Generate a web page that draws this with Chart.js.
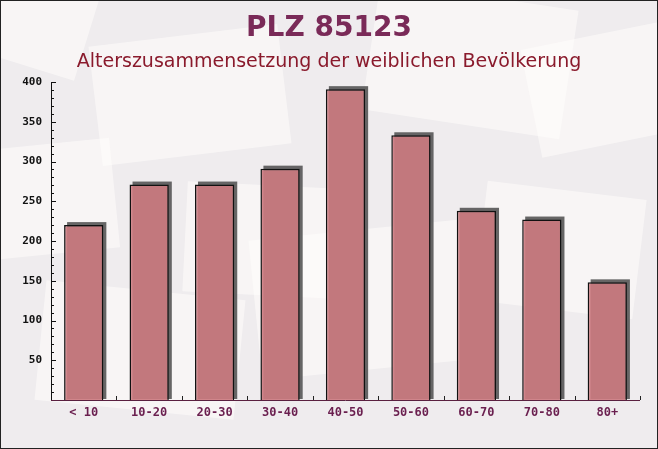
<!DOCTYPE html>
<html>
<head>
<meta charset="utf-8">
<script src="https://cdn.jsdelivr.net/npm/chart.js@4/dist/chart.umd.min.js"></script>
<style>
html,body{margin:0;padding:0;background:#f1eef0;}
#wrap{position:relative;width:658px;height:449px;}
canvas{display:block;}
</style>
</head>
<body>
<div id="wrap"><canvas id="c" width="658" height="449"></canvas></div>
<script>
const categories = ['< 10','10-20','20-30','30-40','40-50','50-60','60-70','70-80','80+'];
const values = [220, 271, 271, 291, 391, 333, 238, 227, 148];
const yTicks = [50, 100, 150, 200, 250, 300, 350, 400];
const titleText = 'PLZ 85123';
const subtitleText = 'Alterszusammensetzung der weiblichen Bevölkerung';

const bgPlugin = {
  id: 'bg',
  beforeDraw(chart) {
    const ctx = chart.ctx, W = chart.width, H = chart.height;
    ctx.save();
    ctx.fillStyle = '#efecee';
    ctx.fillRect(0, 0, W, H);
    const env = [
      [190, 95, 190, 120, -0.12], [470, 60, 200, 130, 0.15], [40, 200, 150, 110, -0.1],
      [360, 300, 210, 140, -0.1], [560, 250, 160, 120, 0.12], [140, 350, 200, 120, 0.1],
      [600, 90, 140, 110, -0.2], [260, 240, 150, 110, 0.05], [30, 20, 120, 90, 0.3]
    ];
    env.forEach(([x, y, w, h, r]) => {
      ctx.save();
      ctx.translate(x, y);
      ctx.rotate(r);
      ctx.fillStyle = 'rgba(255,253,252,0.55)';
      ctx.fillRect(-w / 2, -h / 2, w, h);
      ctx.restore();
    });
    ctx.textAlign = 'center';
    ctx.textBaseline = 'middle';
    ctx.fillStyle = '#7a2a58';
    ctx.font = 'bold 28px "DejaVu Sans"';
    ctx.fillText(titleText, W / 2, 29);
    ctx.fillStyle = '#8a1a2c';
    ctx.font = '19px "DejaVu Sans"';
    ctx.fillText(subtitleText, W / 2, 62);
    ctx.restore();
  },
  afterDraw(chart) {
    const ctx = chart.ctx;
    ctx.save();
    ctx.strokeStyle = '#222';
    ctx.lineWidth = 1;
    ctx.strokeRect(0.5, 0.5, chart.width - 1, chart.height - 1);
    ctx.restore();
  }
};

const shadowPlugin = {
  id: 'shadow',
  beforeDatasetsDraw(chart) {
    const ctx = chart.ctx;
    const meta = chart.getDatasetMeta(0);
    ctx.save();
    ctx.fillStyle = 'rgba(85,85,85,0.9)';
    meta.data.forEach(bar => {
      const p = bar.getProps(['x', 'y', 'base', 'width'], true);
      const l = p.x - p.width / 2 + 3, r = p.x + p.width / 2 + 3;
      ctx.fillRect(l, p.y - 3, r - l, p.base - p.y + 3 - 1);
    });
    ctx.restore();
  }
};

const axisPlugin = {
  id: 'axes',
  afterDatasetsDraw(chart) {
    const ctx = chart.ctx, a = chart.chartArea;
    const ys = chart.scales.y, xs = chart.scales.x;
    ctx.save();
    ctx.strokeStyle = '#111';
    ctx.lineWidth = 1;
    ctx.beginPath();
    ctx.moveTo(a.left + 0.5, a.top);
    ctx.lineTo(a.left + 0.5, a.bottom);
    ctx.stroke();
    for (let v = 10; v <= 400; v += 10) {
      const y = Math.round(ys.getPixelForValue(v)) + 0.5;
      const len = (v % 50 === 0) ? 5 : 3;
      ctx.beginPath();
      ctx.moveTo(a.left, y);
      ctx.lineTo(a.left + len, y);
      ctx.stroke();
    }
    ctx.strokeStyle = '#5a2040';
    ctx.beginPath();
    ctx.moveTo(a.left, a.bottom + 0.5);
    ctx.lineTo(a.right, a.bottom + 0.5);
    ctx.stroke();
    ctx.strokeStyle = '#222';
    const n = categories.length;
    const step = xs.getPixelForValue(1) - xs.getPixelForValue(0);
    for (let i = 0; i < n; i++) {
      const x = Math.round(xs.getPixelForValue(i) + step / 2) + 0.5;
      ctx.beginPath();
      ctx.moveTo(x, a.bottom);
      ctx.lineTo(x, a.bottom - 4);
      ctx.stroke();
    }
    ctx.restore();
  }
};

new Chart(document.getElementById('c'), {
  type: 'bar',
  data: {
    labels: categories,
    datasets: [{
      data: values,
      backgroundColor: 'rgba(204,122,127,0.9)',
      borderColor: '#111',
      borderWidth: 1.5,
      borderSkipped: 'bottom',
      barPercentage: 0.6,
      categoryPercentage: 1.0
    }]
  },
  options: {
    responsive: false,
    animation: false,
    devicePixelRatio: 1,
    layout: { padding: { top: 82, left: 0, right: 18, bottom: 0 } },
    plugins: {
      legend: { display: false },
      tooltip: { enabled: false },
      title: { display: false },
      subtitle: { display: false }
    },
    scales: {
      x: {
        grid: { display: false, drawTicks: false },
        border: { display: false },
        ticks: {
          color: '#6a1f4f',
          font: { family: 'DejaVu Sans Mono', size: 12, weight: 'bold' },
          padding: 6,
          maxRotation: 0
        },
        afterFit(s) { s.height = 49; }
      },
      y: {
        min: 0,
        max: 400,
        grid: { display: false, drawTicks: false },
        border: { display: false },
        afterBuildTicks(s) { s.ticks = yTicks.map(v => ({ value: v })); },
        ticks: {
          color: '#111',
          font: { family: 'DejaVu Sans Mono', size: 11, weight: 'bold' },
          padding: 9
        },
        afterFit(s) { s.width = 51; }
      }
    }
  },
  plugins: [bgPlugin, shadowPlugin, axisPlugin]
});
</script>
</body>
</html>
